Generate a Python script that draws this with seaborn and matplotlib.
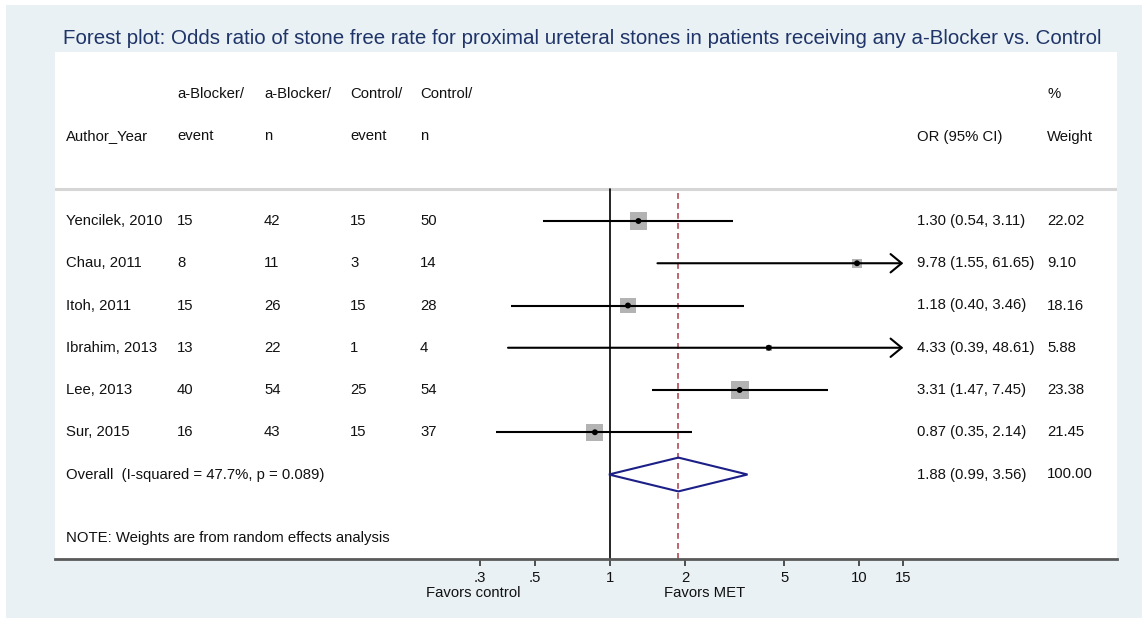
import matplotlib
matplotlib.use("Agg")
import matplotlib.pyplot as plt
from matplotlib.patches import Rectangle, Polygon
from matplotlib.ticker import NullLocator
import numpy as np
import pandas as pd
import seaborn as sns

# ---------------- data ----------------
title = ("Forest plot: Odds ratio of stone free rate for proximal ureteral stones "
         "in patients receiving any a-Blocker vs. Control")
studies = ["Yencilek, 2010", "Chau, 2011", "Itoh, 2011", "Ibrahim, 2013", "Lee, 2013", "Sur, 2015"]
ab_event = [15, 8, 15, 13, 40, 16]
ab_n = [42, 11, 26, 22, 54, 43]
ctl_event = [15, 3, 15, 1, 25, 15]
ctl_n = [50, 14, 28, 4, 54, 37]
or_est = [1.30, 9.78, 1.18, 4.33, 3.31, 0.87]
ci_lo = [0.54, 1.55, 0.40, 0.39, 1.47, 0.35]
ci_hi = [3.11, 61.65, 3.46, 48.61, 7.45, 2.14]
weights = [22.02, 9.10, 18.16, 5.88, 23.38, 21.45]
overall_or = 1.88
overall_lo = 0.99
overall_hi = 3.56
overall_weight = 100.00
overall_label = "Overall  (I-squared = 47.7%, p = 0.089)"
note_text = "NOTE: Weights are from random effects analysis"
header_top = ["", "a-Blocker/", "a-Blocker/", "Control/", "Control/", "", "%"]
header_bot = ["Author_Year", "event", "n", "event", "n", "OR (95% CI)", "Weight"]
tick_vals = [0.3, 0.5, 1, 2, 5, 10, 15]
tick_labels = [".3", ".5", "1", "2", "5", "10", "15"]
axis_max = 15
favor_labels = ["Favors control", "Favors MET"]

# ---------------- style / layout ----------------
sns.set_theme(style="white")
plt.rcParams["font.family"] = ["Liberation Sans", "DejaVu Sans"]
LIGHT = "#e9f1f4"
TITLE_C = "#1f3468"
TXT_C = "#111111"
FS = 10.7
W, H = 1148, 622
PX_DEC = 249.4   # pixels per decade of the log axis
X1 = 610         # pixel of OR = 1


def fx(px):
    return px / W


def fy(py):
    return 1 - py / H


fig = plt.figure(figsize=(W / 100, H / 100), dpi=100, facecolor="white")
fig.patches.append(Rectangle((fx(6), fy(618)), fx(1142) - fx(6), fy(5) - fy(618),
                             transform=fig.transFigure, facecolor=LIGHT,
                             edgecolor="none", zorder=-10))
fig.text(fx(63), fy(39), title, ha="left", va="center", fontsize=14.8, color=TITLE_C)

ax = fig.add_axes([fx(55), fy(559), fx(1117) - fx(55), fy(52) - fy(559)])
ax.set_facecolor("white")
ax.set_xscale("log")

rows = np.arange(len(studies))
overall_row = len(studies)
df = pd.DataFrame({"study": studies, "or": or_est, "lo": ci_lo, "hi": ci_hi,
                   "weight": weights, "row": rows})

# separator and reference lines
sep_y = -0.75
ax.axhline(sep_y, color="#d6d6d6", lw=2.2, zorder=1)
ax.plot([1, 1], [sep_y, 8], color="black", lw=1.2, zorder=2)
ax.plot([overall_or, overall_or], [sep_y + 0.08, 8], color="#b24a55", lw=1.2,
        ls=(0, (3.5, 2.5)), zorder=2)

# boxes sized by weight
sns.scatterplot(data=df, x="or", y="row", size="weight", sizes=(20, 165), marker="s",
                color="#b3b3b3", edgecolor="none", linewidth=0, legend=False,
                ax=ax, zorder=3)

# CI lines (arrow when beyond axis)
for _, r in df.iterrows():
    if r["hi"] > axis_max:
        ax.annotate("", xy=(axis_max, r["row"]), xytext=(r["lo"], r["row"]),
                    arrowprops=dict(arrowstyle="->,head_length=0.4,head_width=0.33",
                                    lw=1.5, color="black", shrinkA=0, shrinkB=0,
                                    mutation_scale=20), zorder=4)
    else:
        ax.plot([r["lo"], r["hi"]], [r["row"], r["row"]], color="black", lw=1.5,
                zorder=4, solid_capstyle="butt")

sns.scatterplot(data=df, x="or", y="row", color="black", s=18, edgecolor="none",
                legend=False, ax=ax, zorder=5)

# overall diamond
dh = 0.4
diamond = Polygon([(overall_lo, overall_row), (overall_or, overall_row - dh),
                   (overall_hi, overall_row), (overall_or, overall_row + dh)],
                  closed=True, fill=False, edgecolor="#1c1f86", lw=1.5, zorder=4)
ax.add_patch(diamond)

# text columns (axes-fraction x, data y)
col_px = [66, 177, 264, 350, 420, 917, 1047]
col_x = [(p - 55) / 1062 for p in col_px]
tr = ax.get_yaxis_transform()
for cx, t1, t2 in zip(col_x, header_top, header_bot):
    if t1:
        ax.text(cx, -3, t1, transform=tr, ha="left", va="center", fontsize=FS, color=TXT_C)
    ax.text(cx, -2, t2, transform=tr, ha="left", va="center", fontsize=FS, color=TXT_C)

for i, s in enumerate(studies):
    vals = [s, str(ab_event[i]), str(ab_n[i]), str(ctl_event[i]), str(ctl_n[i]),
            f"{or_est[i]:.2f} ({ci_lo[i]:.2f}, {ci_hi[i]:.2f})", f"{weights[i]:.2f}"]
    for cx, v in zip(col_x, vals):
        ax.text(cx, rows[i], v, transform=tr, ha="left", va="center", fontsize=FS, color=TXT_C)

ax.text(col_x[0], overall_row, overall_label, transform=tr, ha="left", va="center",
        fontsize=FS, color=TXT_C)
ax.text(col_x[5], overall_row, f"{overall_or:.2f} ({overall_lo:.2f}, {overall_hi:.2f})",
        transform=tr, ha="left", va="center", fontsize=FS, color=TXT_C)
ax.text(col_x[6], overall_row, f"{overall_weight:.2f}", transform=tr, ha="left",
        va="center", fontsize=FS, color=TXT_C)
ax.text(col_x[0], 7.5, note_text, transform=tr, ha="left", va="center",
        fontsize=FS, color=TXT_C)

# favors labels
ax.text((473 - 55) / 1062, -(593 - 559) / 507, favor_labels[0], transform=ax.transAxes,
        ha="center", va="center", fontsize=FS, color=TXT_C)
ax.text((705 - 55) / 1062, -(593 - 559) / 507, favor_labels[1], transform=ax.transAxes,
        ha="center", va="center", fontsize=FS, color=TXT_C)

# axes
ax.set_xlim(10 ** ((55 - X1) / PX_DEC), 10 ** ((1117 - X1) / PX_DEC))
ax.set_ylim(8, -4)
ax.set_xticks(tick_vals)
ax.set_xticklabels(tick_labels)
ax.xaxis.set_minor_locator(NullLocator())
ax.set_yticks([])
ax.set_xlabel("")
ax.set_ylabel("")
for sp in ["left", "right", "top"]:
    ax.spines[sp].set_visible(False)
ax.spines["bottom"].set_color("#5a5a5a")
ax.spines["bottom"].set_linewidth(2)
ax.tick_params(axis="x", which="major", bottom=True, direction="out", length=5,
               width=1.2, color="#333333", labelsize=FS, pad=3.5, labelcolor=TXT_C)

fig.savefig("out.png", dpi=100, facecolor="white")
